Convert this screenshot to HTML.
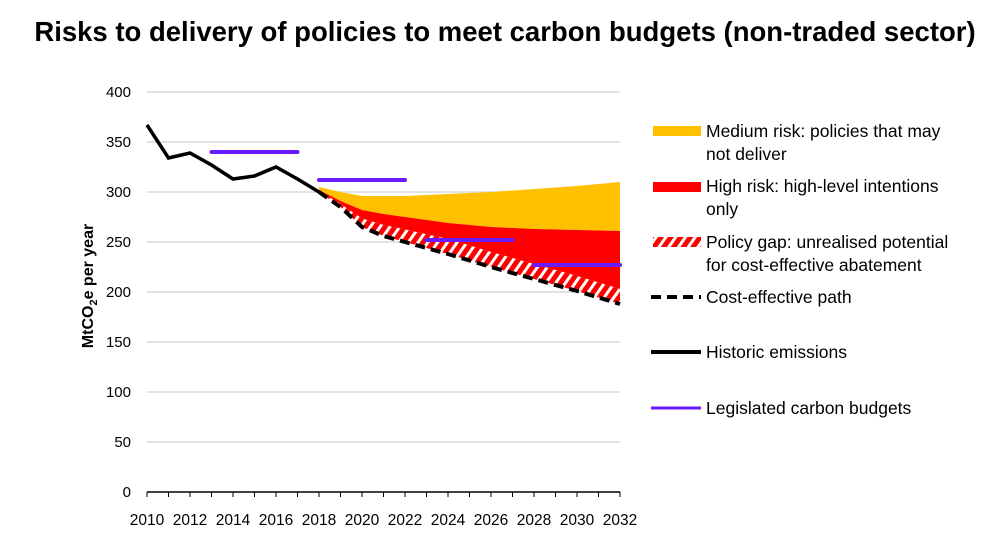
<!DOCTYPE html>
<html><head><meta charset="utf-8"><style>
body{margin:0;background:#fff;font-family:"Liberation Sans",sans-serif}
svg text{font-family:"Liberation Sans",sans-serif}
</style></head><body>
<svg width="1000" height="539" viewBox="0 0 1000 539" xmlns="http://www.w3.org/2000/svg">
<defs><pattern id="hatch" patternUnits="userSpaceOnUse" width="8" height="8" patternTransform="rotate(35)">
<rect width="8" height="8" fill="#f00"/><rect width="3" height="8" fill="#fff"/></pattern></defs>
<text x="505" y="41" text-anchor="middle" font-size="27.5" font-weight="bold">Risks to delivery of policies to meet carbon budgets (non-traded sector)</text>
<g id="grid"></g><g id="areas"></g><g id="lines"></g><g id="axes"></g>
<text transform="translate(93,286) rotate(-90)" text-anchor="middle" font-size="16" font-weight="bold">MtCO<tspan font-size="11" dy="4">2</tspan><tspan dy="-4">e per year</tspan></text>
<g font-size="17.5">
<rect x="653" y="126" width="48" height="10" fill="#ffc000"/>
<text x="706" y="137">Medium risk: policies that may</text><text x="706" y="160">not deliver</text>
<rect x="653" y="182" width="48" height="10" fill="#f00"/>
<text x="706" y="192">High risk: high-level intentions</text><text x="706" y="215">only</text>
<rect x="653" y="237" width="48" height="10" fill="url(#hatch)"/>
<text x="706" y="248">Policy gap: unrealised potential</text><text x="706" y="271">for cost-effective abatement</text>
<line x1="651" y1="297" x2="701" y2="297" stroke="#000" stroke-width="4" stroke-dasharray="10,6"/>
<text x="706" y="303">Cost-effective path</text>
<line x1="651" y1="352" x2="701" y2="352" stroke="#000" stroke-width="4"/>
<text x="706" y="358">Historic emissions</text>
<line x1="651" y1="408" x2="701" y2="408" stroke="#6a1bff" stroke-width="3"/>
<text x="706" y="414">Legislated carbon budgets</text>
</g>
</svg>
<script>
const histYears=[2010,2011,2012,2013,2014,2015,2016,2017,2018];
const histValues=[367,334,339,327,313,316,325,313,300];
const projYears=[2018,2019,2020,2021,2022,2024,2026,2028,2030,2032];
const costPath=[300,285,265,256,250,238,225,213,201,188];
const highTop=[302,291,282,278,275,269,265,263,262,261];
const mediumTop=[305,300,296,296,296,298,300,303,306,310];
const budgetStart=[2013,2018,2023,2028];
const budgetEnd=[2017,2022,2027,2032];
const budgetValues=[340,312,252,227];
const yTicks=[0,50,100,150,200,250,300,350,400];
const xTicks=[2010,2012,2014,2016,2018,2020,2022,2024,2026,2028,2030,2032];
const NS="http://www.w3.org/2000/svg";
const X=y=>147+(y-2010)*(473/22);
const Y=v=>492-v;
function mk(tag,attrs,parent){const e=document.createElementNS(NS,tag);for(const k in attrs)e.setAttribute(k,attrs[k]);document.getElementById(parent).appendChild(e);return e;}
yTicks.forEach(t=>{
 if(t>0){const g=mk('line',{x1:147,x2:620,y1:Y(t),y2:Y(t),stroke:'#d9d9d9','stroke-width':1.5},'grid');
 
 }
 const tx=mk('text',{x:131,y:Y(t)+5,'text-anchor':'end','font-size':15},'axes');tx.textContent=t;
 
 
});
xTicks.forEach(t=>{
 const tx=mk('text',{x:X(t),y:525,'text-anchor':'middle','font-size':15.5},'axes');tx.textContent=t;
 
 
});
for(let y=2010;y<=2032;y++){mk('line',{x1:X(y),x2:X(y),y1:492,y2:497,stroke:'#000'},'axes');}
const ax=mk('line',{x1:147,x2:620,y1:492,y2:492,stroke:'#000','stroke-width':1.5},'axes');


function band(top,bot){let d='M';projYears.forEach((y,i)=>d+=X(y)+','+Y(top[i])+' L');for(let i=projYears.length-1;i>=0;i--)d+=X(projYears[i])+','+Y(bot[i])+(i?' L':' Z');return d;}
const gapTop=highTop.map((v,i)=>Math.min(v,costPath[i]+Math.min(15,(v-costPath[i])*0.5)));
const m=mk('path',{d:band(mediumTop,highTop),fill:'#ffc000'},'areas');


const h=mk('path',{d:band(highTop,gapTop),fill:'#f00'},'areas');


const g=mk('path',{d:band(gapTop,costPath),fill:'url(#hatch)'},'areas');


const pts=(xs,vs)=>xs.map((y,i)=>X(y)+','+Y(vs[i])).join(' ');
const c=mk('polyline',{points:pts(projYears,costPath),fill:'none',stroke:'#000','stroke-width':4,'stroke-dasharray':'10,6'},'lines');


const hl=mk('polyline',{points:pts(histYears,histValues),fill:'none',stroke:'#000','stroke-width':3.5},'lines');


budgetValues.forEach((v,i)=>{
 const b=mk('line',{x1:X(budgetStart[i]),x2:X(budgetEnd[i]),y1:Y(v),y2:Y(v),stroke:'#6a1bff','stroke-width':4,'stroke-linecap':'round'},'lines');
 
 
});
</script>
</body></html>
